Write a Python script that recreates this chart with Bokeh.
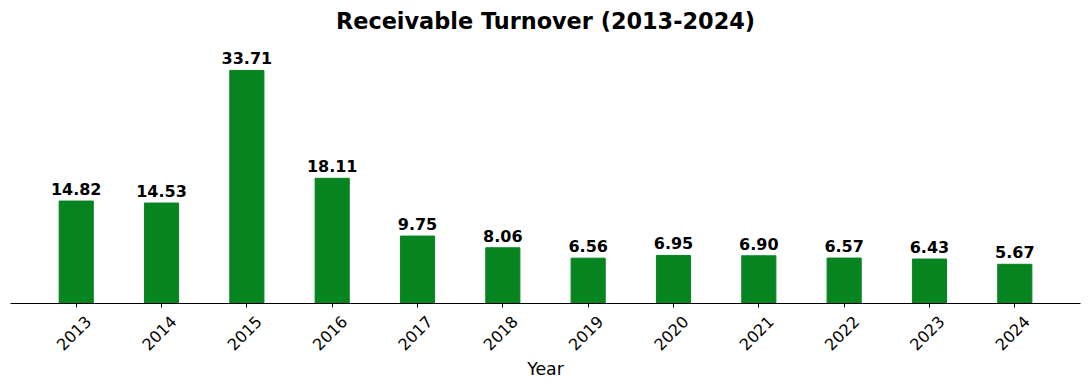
from math import pi
from bokeh.plotting import figure
from bokeh.models import ColumnDataSource, FixedTicker, Range1d, LinearAxis
from bokeh.core.properties import value
from bokeh.embed import file_html
from bokeh.resources import INLINE

years = ["2013", "2014", "2015", "2016", "2017", "2018", "2019", "2020", "2021", "2022", "2023", "2024"]
turnover = [14.82, 14.53, 33.71, 18.11, 9.75, 8.06, 6.56, 6.95, 6.90, 6.57, 6.43, 5.67]

xs = list(range(len(years)))
src = ColumnDataSource(dict(x=xs, top=turnover, lab=[f"{v:.2f}" for v in turnover]))

x0, x1 = -0.77, len(years) - 1 + 0.77
shift = 0.14
p = figure(width=1089, height=381, output_backend="svg", toolbar_location=None,
           x_range=Range1d(x0, x1), y_range=Range1d(0, max(turnover) * 1.137),
           min_border_left=10, min_border_right=9, min_border_top=0, min_border_bottom=0,
           x_axis_location=None)
p.extra_x_ranges = {"lab": Range1d(x0 - shift, x1 - shift)}
p.title.text = "Receivable Turnover (2013-2024)"
p.title.align = "center"
p.title.text_font = "DejaVu Sans"
p.title.text_font_size = "16.8pt"
p.title.text_font_style = "bold"
p.title.text_color = "black"

p.vbar(x="x", top="top", width=0.4, bottom=0, color="#068420", source=src)
p.text(x="x", y="top", text="lab", source=src, text_align="center", text_baseline="bottom",
       y_offset=-6, text_font_size="12pt", text_font_style="bold", text_color="black",
       text_font=value("DejaVu Sans"))

p.yaxis.visible = False
p.xgrid.visible = False
p.ygrid.visible = False
p.outline_line_color = None

# axis line + tick marks at the bar centres
ax = LinearAxis(ticker=FixedTicker(ticks=xs))
ax.major_label_overrides = {i: "" for i in xs}
ax.major_label_standoff = 0
ax.minor_tick_line_color = None
ax.major_tick_in = 0
ax.major_tick_out = 4
ax.major_tick_line_color = "black"
ax.axis_line_color = "black"
p.add_layout(ax, "below")

# rotated year labels
lab = LinearAxis(x_range_name="lab", ticker=FixedTicker(ticks=xs))
lab.major_label_overrides = {i: y for i, y in zip(xs, years)}
lab.major_label_orientation = pi / 4
lab.major_label_text_font = "DejaVu Sans"
lab.major_label_text_font_size = "12pt"
lab.major_label_text_color = "black"
lab.major_label_standoff = 11
lab.axis_line_color = None
lab.major_tick_line_color = None
lab.minor_tick_line_color = None
lab.major_tick_in = 0
lab.major_tick_out = 0
lab.axis_label = "Year"
lab.axis_label_text_font = "DejaVu Sans"
lab.axis_label_text_font_size = "13pt"
lab.axis_label_text_font_style = "normal"
lab.axis_label_text_color = "black"
lab.axis_label_standoff = 0
p.add_layout(lab, "below")

open("out.html", "w").write(file_html(p, INLINE))
